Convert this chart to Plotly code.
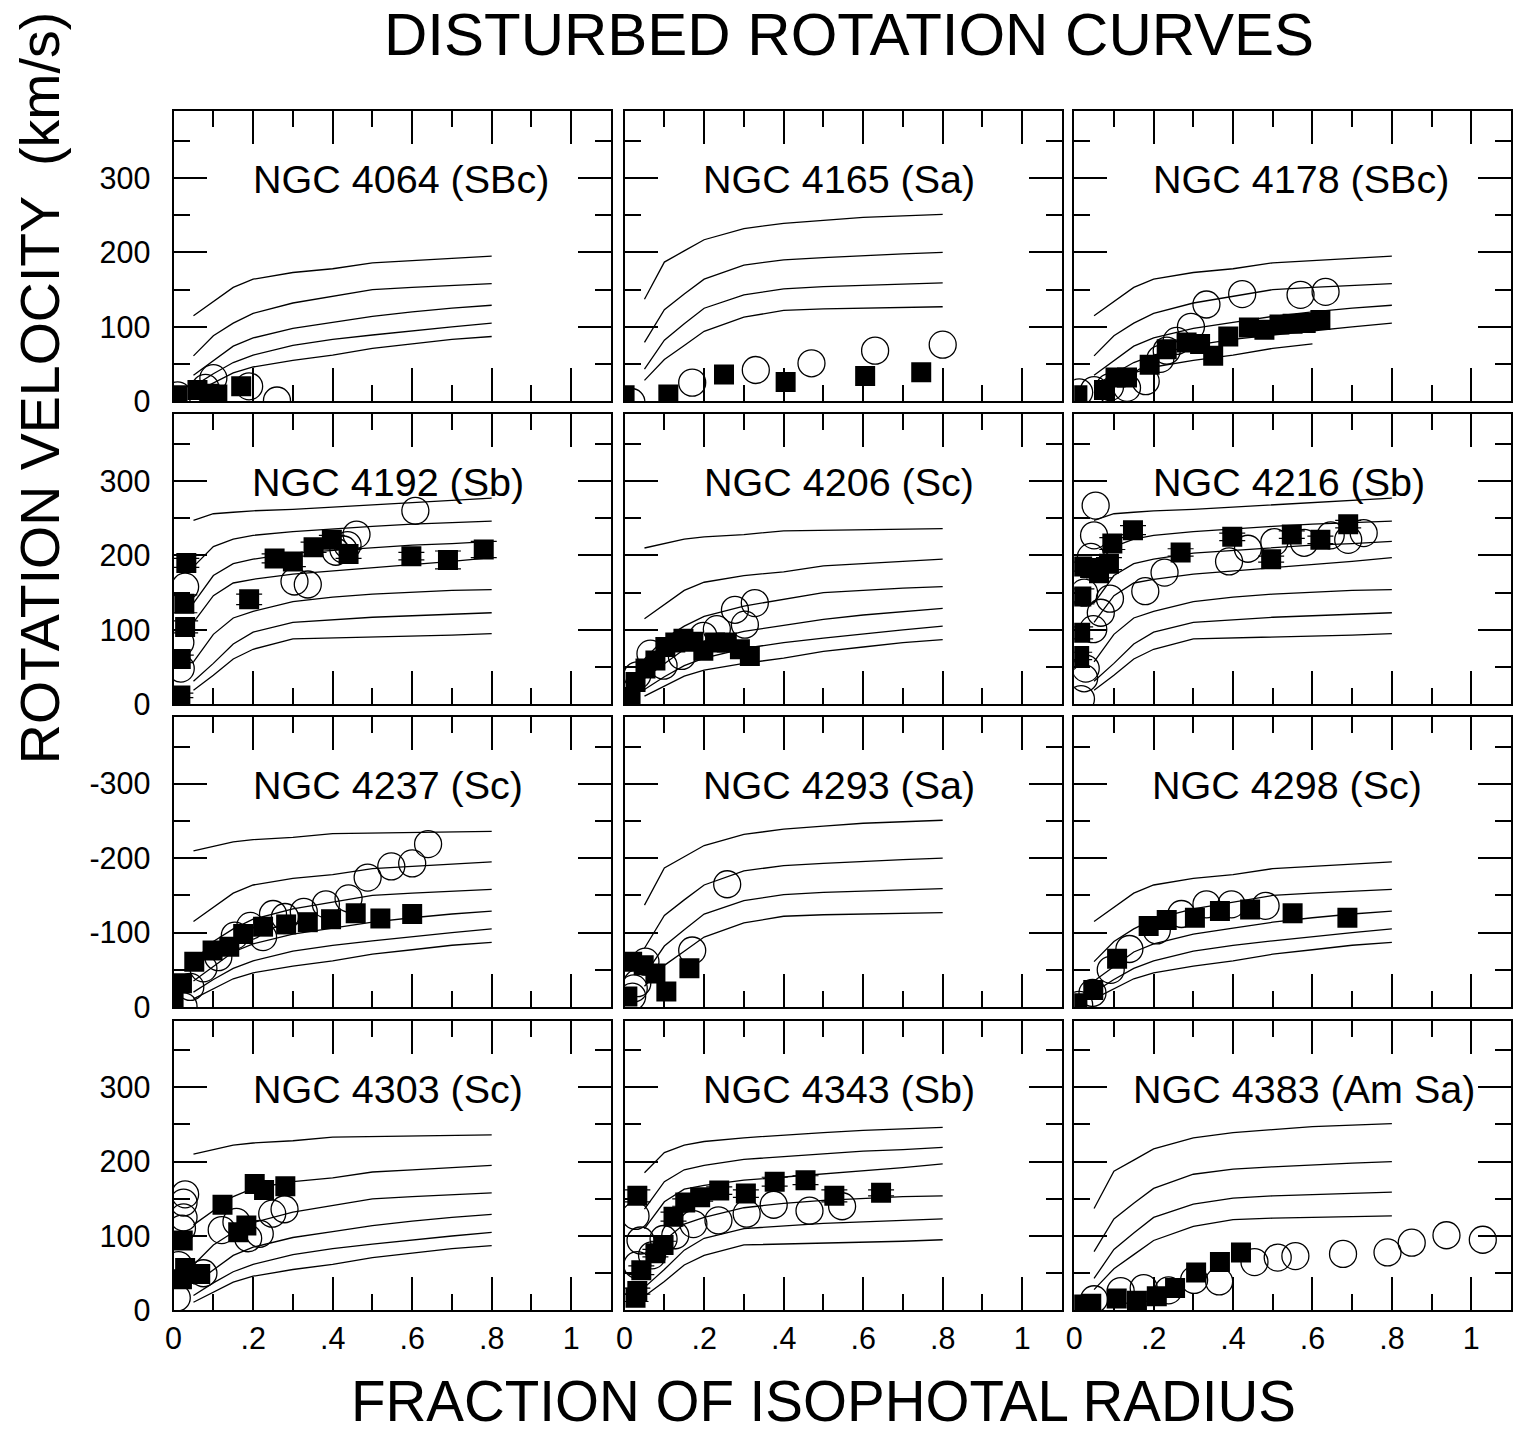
import plotly.graph_objects as go

W, H = 1513, 1448
FONT = "Liberation Sans, Arial, Helvetica, sans-serif"

# ---------------------------------------------------------------------------
# Model rotation curves (velocity in km/s) sampled at fractions of R25
# ---------------------------------------------------------------------------
CURVE_R = [0.05, 0.1, 0.15, 0.2, 0.3, 0.4, 0.5, 0.6, 0.7, 0.8]

SC_CURVES = [
    [11, 24, 38, 46, 55, 62, 71, 77, 83, 87],
    [20, 37, 52, 62, 75, 83, 89, 95, 100, 105],
    [35, 55, 74, 85, 98, 106, 114, 120, 125, 129],
    [61, 88, 105, 118, 132, 141, 150, 153, 156, 158],
    [115, 134, 153, 164, 173, 178, 186, 189, 192, 195],
    [210, 216, 222, 225, 228, 233, 234, 235, 236, 236],
]
SB_CURVES = [
    [19, 39, 61, 74, 88, 89, 90, 92, 93, 95],
    [31, 55, 81, 97, 110, 114, 117, 119, 121, 123],
    [57, 94, 116, 125, 138, 144, 148, 151, 153, 154],
    [110, 146, 163, 168, 175, 179, 183, 188, 192, 197],
    [136, 173, 189, 195, 203, 207, 211, 214, 216, 219],
    [185, 212, 222, 227, 232, 236, 239, 242, 244, 246],
    [247, 256, 258, 260, 262, 265, 267, 271, 274, 277],
]
SA_CURVES = [
    [28, 56, 75, 94, 113, 122, 124, 125, 126, 127],
    [43, 82, 104, 125, 143, 151, 154, 156, 158, 159],
    [79, 123, 144, 164, 183, 190, 193, 196, 198, 200],
    [137, 187, 202, 217, 232, 239, 243, 247, 249, 251],
]

# ---------------------------------------------------------------------------
# Observed rotation velocities: filled = one side, open = other side
# ---------------------------------------------------------------------------
NGC4064_R_FILLED = [0.01, 0.06, 0.09, 0.11, 0.17]
NGC4064_V_FILLED = [8, 15, 10, 9, 20]
NGC4064_R_OPEN = [0.01, 0.08, 0.10, 0.19, 0.26]
NGC4064_V_OPEN = [8, 18, 31, 20, 1]

NGC4165_R_FILLED = [0.0, 0.11, 0.25, 0.405, 0.605, 0.746]
NGC4165_V_FILLED = [8, 9, 36, 26, 34, 39]
NGC4165_R_OPEN = [0.017, 0.17, 0.33, 0.47, 0.63, 0.80]
NGC4165_V_OPEN = [-1, 25, 42, 51, 68, 76]

NGC4178_R_FILLED = [0.008, 0.075, 0.104, 0.133, 0.19, 0.233, 0.283, 0.317, 0.35,
                    0.388, 0.44, 0.479, 0.517, 0.55, 0.583, 0.62]
NGC4178_V_FILLED = [8, 15, 32, 32, 49, 70, 79, 77, 61, 87, 99, 96, 103, 104, 105, 109]
NGC4178_R_OPEN = [0.0125, 0.05, 0.09, 0.133, 0.18, 0.217, 0.233, 0.258, 0.294,
                  0.333, 0.423, 0.57, 0.633]
NGC4178_V_OPEN = [12, 15, 19, 18, 27, 57, 68, 81, 100, 130, 144, 143, 147]

NGC4192_R_FILLED = [0.017, 0.018, 0.029, 0.027, 0.032, 0.19, 0.254, 0.30, 0.352,
                    0.398, 0.44, 0.598, 0.69, 0.78]
NGC4192_V_FILLED = [12, 61, 104, 135, 190, 141, 196, 192, 211, 221, 202, 199, 194, 208]
NGC4192_E_FILLED = [3, 5, 8, 12, 6, 7, 6, 7, 7, 6, 6, 5, 12, 11]
NGC4192_R_OPEN = [0.018, 0.017, 0.029, 0.304, 0.3375, 0.408, 0.427, 0.4375, 0.46, 0.608]
NGC4192_V_OPEN = [48, 83, 158, 165, 161, 205, 208, 214, 228, 260]

NGC4206_R_FILLED = [0.015, 0.0275, 0.0525, 0.0775, 0.1025, 0.1275, 0.148, 0.173,
                    0.198, 0.2275, 0.257, 0.29, 0.315]
NGC4206_V_FILLED = [10, 30, 48, 59, 77, 83, 88, 84, 72, 83, 83, 74, 65]
NGC4206_R_OPEN = [0.032, 0.065, 0.098, 0.144, 0.198, 0.232, 0.2775, 0.3025, 0.3275]
NGC4206_V_OPEN = [39, 68, 52, 65, 92, 101, 127, 107, 136]

NGC4216_R_FILLED = [0.0125, 0.015, 0.018, 0.02, 0.04, 0.0625, 0.0875, 0.096, 0.148,
                    0.268, 0.398, 0.496, 0.548, 0.62, 0.69]
NGC4216_V_FILLED = [65, 96, 145, 185, 183, 176, 189, 216, 234, 204, 225, 195, 228, 221, 242]
NGC4216_E_FILLED = [5, 8, 10, 6, 6, 6, 8, 8, 6, 5, 5, 4, 5, 5, 5]
NGC4216_R_OPEN = [0.017, 0.025, 0.029, 0.048, 0.067, 0.09, 0.025, 0.042, 0.05, 0.054,
                  0.179, 0.2275, 0.39, 0.4375, 0.504, 0.579, 0.646, 0.69, 0.729]
NGC4216_V_OPEN = [7, 35, 48, 101, 123, 142, 150, 198, 227, 267,
                  152, 177, 192, 209, 218, 217, 227, 221, 230]

NGC4237_R_FILLED = [0.0, 0.021, 0.052, 0.098, 0.14, 0.175, 0.225, 0.283, 0.3375,
                    0.396, 0.458, 0.52, 0.60]
NGC4237_V_FILLED = [8, 32, 61, 76, 81, 98, 108, 111, 114, 118, 126, 119, 125]
NGC4237_R_OPEN = [0.025, 0.042, 0.075, 0.1125, 0.154, 0.193, 0.225, 0.25, 0.28,
                  0.3275, 0.383, 0.44, 0.488, 0.5475, 0.60, 0.64]
NGC4237_V_OPEN = [1, 27, 52, 67, 96, 109, 94, 125, 121, 128, 138, 146, 174, 189, 193, 219]

NGC4293_R_FILLED = [0.007, 0.019, 0.048, 0.0775, 0.105, 0.163]
NGC4293_V_FILLED = [14, 61, 56, 45, 21, 52]
NGC4293_R_OPEN = [0.019, 0.023, 0.032, 0.0525, 0.17, 0.258]
NGC4293_V_OPEN = [14, 25, 32, 61, 76, 165]

NGC4298_R_FILLED = [0.008, 0.048, 0.108, 0.1875, 0.233, 0.304, 0.367, 0.443, 0.55, 0.688]
NGC4298_V_FILLED = [5, 23, 65, 109, 117, 120, 129, 131, 126, 120]
NGC4298_R_OPEN = [0.0125, 0.046, 0.092, 0.139, 0.208, 0.27, 0.333, 0.396, 0.482]
NGC4298_V_OPEN = [3, 19, 50, 78, 103, 125, 138, 138, 136]

NGC4303_R_FILLED = [0.021, 0.023, 0.029, 0.067, 0.123, 0.1625, 0.183, 0.204, 0.2275, 0.281]
NGC4303_V_FILLED = [42, 94, 57, 49, 142, 105, 114, 170, 162, 167]
NGC4303_R_OPEN = [0.008, 0.0125, 0.021, 0.025, 0.025, 0.029, 0.075, 0.121, 0.158,
                  0.1875, 0.2167, 0.248, 0.279]
NGC4303_V_OPEN = [17, 61, 110, 125, 145, 156, 50, 108, 119, 97, 103, 130, 136]

NGC4343_R_FILLED = [0.0275, 0.032, 0.032, 0.042, 0.0775, 0.098, 0.123, 0.1525, 0.19,
                    0.238, 0.305, 0.3775, 0.455, 0.5275, 0.645]
NGC4343_V_FILLED = [17, 26, 154, 54, 77, 88, 126, 145, 152, 161, 157, 173, 175, 154, 158]
NGC4343_E_FILLED = [5, 4, 8, 6, 5, 5, 6, 5, 5, 5, 5, 6, 6, 8, 4]
NGC4343_R_OPEN = [0.0275, 0.032, 0.04, 0.069, 0.098, 0.1275, 0.173, 0.236, 0.307,
                  0.375, 0.465, 0.547]
NGC4343_V_OPEN = [127, 61, 94, 74, 96, 101, 116, 121, 130, 142, 134, 140]

NGC4383_R_FILLED = [0.0125, 0.043, 0.107, 0.158, 0.208, 0.254, 0.307, 0.367, 0.42]
NGC4383_V_FILLED = [8, 9, 16, 13, 19, 30, 51, 65, 78]
NGC4383_R_OPEN = [0.05, 0.117, 0.175, 0.2375, 0.302, 0.365, 0.454, 0.5125, 0.557,
                  0.677, 0.789, 0.85, 0.9375, 1.029]
NGC4383_V_OPEN = [15, 26, 30, 27, 41, 39, 65, 71, 73, 76, 78, 91, 101, 95]

# Panel definitions, left-to-right, top-to-bottom
PANELS = [
    dict(title="NGC 4064 (SBc)", curves=SC_CURVES, use=[0, 1, 2, 3, 4], end=[0.8] * 5,
         rf=NGC4064_R_FILLED, vf=NGC4064_V_FILLED, ro=NGC4064_R_OPEN, vo=NGC4064_V_OPEN),
    dict(title="NGC 4165 (Sa)", curves=SA_CURVES, use=[0, 1, 2, 3], end=[0.8] * 4,
         rf=NGC4165_R_FILLED, vf=NGC4165_V_FILLED, ro=NGC4165_R_OPEN, vo=NGC4165_V_OPEN),
    dict(title="NGC 4178 (SBc)", curves=SC_CURVES, use=[0, 1, 2, 3, 4],
         end=[0.6, 0.8, 0.8, 0.8, 0.8],
         rf=NGC4178_R_FILLED, vf=NGC4178_V_FILLED, ro=NGC4178_R_OPEN, vo=NGC4178_V_OPEN),
    dict(title="NGC 4192 (Sb)", curves=SB_CURVES, use=[0, 1, 2, 3, 4, 5, 6], end=[0.8] * 7,
         rf=NGC4192_R_FILLED, vf=NGC4192_V_FILLED, ef=NGC4192_E_FILLED,
         ro=NGC4192_R_OPEN, vo=NGC4192_V_OPEN),
    dict(title="NGC 4206 (Sc)", curves=SC_CURVES, use=[0, 1, 2, 3, 4, 5], end=[0.8] * 6,
         rf=NGC4206_R_FILLED, vf=NGC4206_V_FILLED, ro=NGC4206_R_OPEN, vo=NGC4206_V_OPEN),
    dict(title="NGC 4216 (Sb)", curves=SB_CURVES, use=[0, 1, 2, 3, 4, 5, 6], end=[0.8] * 7,
         rf=NGC4216_R_FILLED, vf=NGC4216_V_FILLED, ef=NGC4216_E_FILLED,
         ro=NGC4216_R_OPEN, vo=NGC4216_V_OPEN),
    dict(title="NGC 4237 (Sc)", curves=SC_CURVES, use=[0, 1, 2, 3, 4, 5], end=[0.8] * 6,
         rf=NGC4237_R_FILLED, vf=NGC4237_V_FILLED, ro=NGC4237_R_OPEN, vo=NGC4237_V_OPEN),
    dict(title="NGC 4293 (Sa)", curves=SA_CURVES, use=[0, 1, 2, 3], end=[0.8] * 4,
         rf=NGC4293_R_FILLED, vf=NGC4293_V_FILLED, ro=NGC4293_R_OPEN, vo=NGC4293_V_OPEN),
    dict(title="NGC 4298 (Sc)", curves=SC_CURVES, use=[0, 1, 2, 3, 4], end=[0.8] * 5,
         rf=NGC4298_R_FILLED, vf=NGC4298_V_FILLED, ro=NGC4298_R_OPEN, vo=NGC4298_V_OPEN),
    dict(title="NGC 4303 (Sc)", curves=SC_CURVES, use=[0, 1, 2, 3, 4, 5], end=[0.8] * 6,
         rf=NGC4303_R_FILLED, vf=NGC4303_V_FILLED, ro=NGC4303_R_OPEN, vo=NGC4303_V_OPEN),
    dict(title="NGC 4343 (Sb)", curves=SB_CURVES, use=[0, 1, 2, 3, 4, 5], end=[0.8] * 6,
         rf=NGC4343_R_FILLED, vf=NGC4343_V_FILLED, ef=NGC4343_E_FILLED,
         ro=NGC4343_R_OPEN, vo=NGC4343_V_OPEN),
    dict(title="NGC 4383 (Am Sa)", curves=SA_CURVES, use=[0, 1, 2, 3], end=[0.8] * 4,
         rf=NGC4383_R_FILLED, vf=NGC4383_V_FILLED, ro=NGC4383_R_OPEN, vo=NGC4383_V_OPEN),
]

# Axis ticks and labels
X_TICKS = [0, 0.2, 0.4, 0.6, 0.8, 1.0]
X_TICK_TEXT = ["0", ".2", ".4", ".6", ".8", "1"]
X_MINOR = [0.1, 0.3, 0.5, 0.7, 0.9]
Y_TICKS = [0, 100, 200, 300]
Y_TICK_TEXT = ["0", "100", "200", "300"]
Y_TICK_TEXT_NEG = ["0", "-100", "-200", "-300"]
Y_MINOR = [50, 150, 250, 350]

# Layout geometry (pixels)
COL_L = [166.7, 620.7, 1073.3]
COL_R = [607.0, 1061.0, 1513.0]
ROW_T = [112.7, 419.3, 725.7, 1032.7]
ROW_B = [406.0, 712.7, 1019.0, 1326.0]
TITLE_X = [0.572, 0.54, 0.571, 0.54, 0.54, 0.54, 0.539, 0.54, 0.537, 0.539, 0.54, 0.579]
TITLE_V = 298

fig = go.Figure()
layout = {}
annotations = []

for i, p in enumerate(PANELS):
    row, col = divmod(i, 3)
    n = i + 1
    xa = "x" if n == 1 else f"x{n}"
    ya = "y" if n == 1 else f"y{n}"

    # model curves
    for k, r_end in zip(p["use"], p["end"]):
        vals = p["curves"][k]
        xs = [r for r in CURVE_R if r <= r_end + 1e-9]
        fig.add_trace(go.Scatter(
            x=xs, y=vals[:len(xs)], mode="lines",
            line=dict(color="black", width=1.3),
            xaxis=xa, yaxis=ya, showlegend=False, hoverinfo="skip"))

    # open circles
    fig.add_trace(go.Scatter(
        x=p["ro"], y=p["vo"], mode="markers",
        marker=dict(symbol="circle-open", size=27, color="black",
                    line=dict(color="black", width=1.3)),
        xaxis=xa, yaxis=ya, showlegend=False))

    # filled squares
    err = None
    if "ef" in p:
        err = dict(type="data", array=p["ef"], visible=True, color="black",
                   thickness=1.2, width=13)
    fig.add_trace(go.Scatter(
        x=p["rf"], y=p["vf"], mode="markers",
        marker=dict(symbol="square", size=20, color="black", line=dict(width=0)),
        error_y=err, xaxis=xa, yaxis=ya, showlegend=False))

    tick_common = dict(ticks="inside", ticklen=33, tickwidth=1.5, tickcolor="black",
                       showline=True, linecolor="black", linewidth=2, mirror="ticks",
                       showgrid=False, zeroline=False,
                       tickfont=dict(family=FONT, size=30.5, color="black"))

    layout[f"xaxis{'' if n == 1 else n}"] = dict(
        domain=[COL_L[col] / W, COL_R[col] / W], range=[0, 1.1], anchor=ya,
        tickmode="array", tickvals=X_TICKS, ticktext=X_TICK_TEXT,
        showticklabels=(row == 3), ticklabelstandoff=0,
        minor=dict(tickmode="array", tickvals=X_MINOR, ticks="inside", ticklen=16,
                   tickwidth=1.5, tickcolor="black", showgrid=False),
        **tick_common)
    layout[f"yaxis{'' if n == 1 else n}"] = dict(
        domain=[1 - ROW_B[row] / H, 1 - ROW_T[row] / H], range=[0, 389.5], anchor=xa,
        tickmode="array", tickvals=Y_TICKS,
        ticktext=Y_TICK_TEXT_NEG if row == 2 else Y_TICK_TEXT,
        showticklabels=(col == 0), ticklabelstandoff=15,
        minor=dict(tickmode="array", tickvals=Y_MINOR, ticks="inside", ticklen=16,
                   tickwidth=1.5, tickcolor="black", showgrid=False),
        **tick_common)

    annotations.append(dict(
        text=p["title"], x=TITLE_X[i], y=TITLE_V, xref=xa, yref=ya,
        xanchor="center", yanchor="middle", showarrow=False,
        font=dict(family=FONT, size=39.5, color="black")))

annotations += [
    dict(text="DISTURBED ROTATION CURVES", x=847 / W, y=1.0,
         xref="paper", yref="paper", xanchor="center", yanchor="top", borderpad=0,
         showarrow=False, font=dict(family=FONT, size=60, color="black")),
    dict(text="FRACTION OF ISOPHOTAL RADIUS", x=821 / W, y=1 - 1418 / H,
         xref="paper", yref="paper", xanchor="center", yanchor="middle",
         showarrow=False, font=dict(family=FONT, size=56.5, color="black")),
    dict(text="ROTATION VELOCITY  (km/s)", x=33 / W, y=1 - 393 / H,
         xref="paper", yref="paper", xanchor="center", yanchor="middle", borderpad=0,
         textangle=-90, showarrow=False, font=dict(family=FONT, size=55.5, color="black")),
]

fig.update_layout(
    width=W, height=H, margin=dict(l=0, r=0, t=0, b=0),
    paper_bgcolor="white", plot_bgcolor="white",
    annotations=annotations, **layout)

fig.write_html("out.html")
